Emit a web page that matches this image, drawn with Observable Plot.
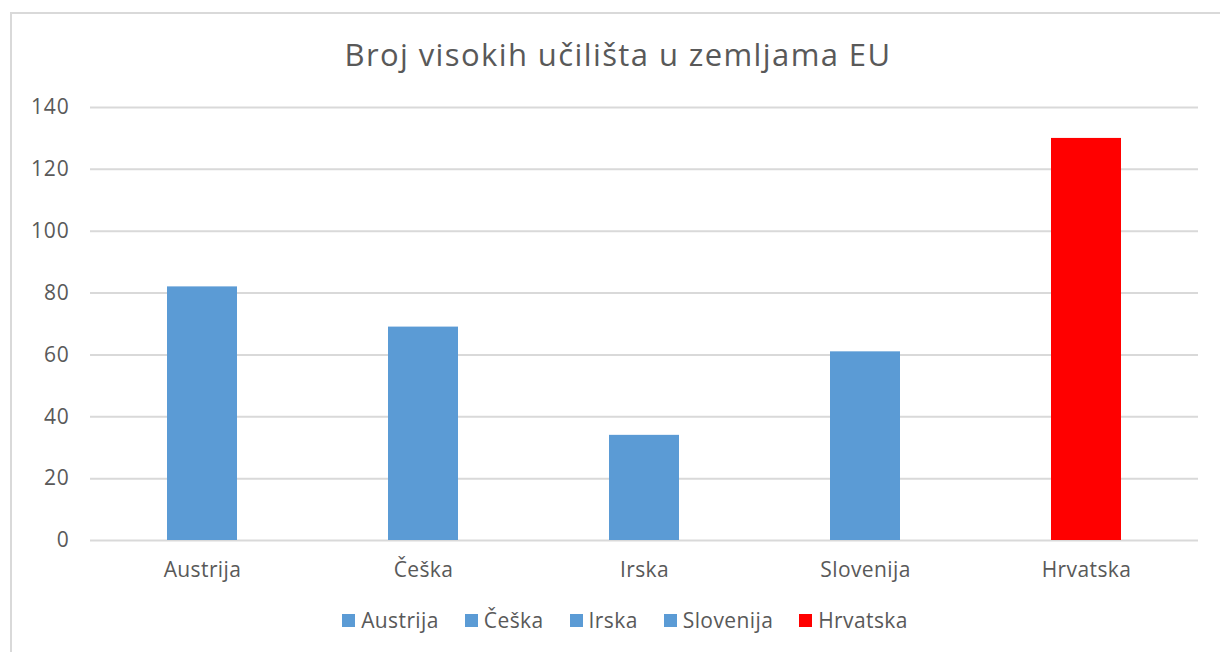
<!DOCTYPE html>
<html>
<head>
<meta charset="utf-8">
<script src="https://cdn.jsdelivr.net/npm/d3@7"></script>
<script src="https://cdn.jsdelivr.net/npm/@observablehq/plot@0.6"></script>
<style>
  html, body { margin: 0; padding: 0; background: #fff; }
  body { width: 1220px; height: 652px; position: relative; overflow: hidden; font-family: "Open Sans", Lato, sans-serif; }
  #frame { position: absolute; left: 10px; top: 12px; width: 1230px; height: 660px; border: 2px solid #d9d9d9; box-sizing: border-box; }
  #title { position: absolute; left: 0; width: 1236px; top: 33px; text-align: center; font-size: 31px; letter-spacing: 1.4px; line-height: 42px; color: #595959; }
  #chart { position: absolute; left: 0; top: 80px; }
  #legend { position: absolute; top: 605px; left: 0; width: 1250px; display: flex; justify-content: center; gap: 26px; font-size: 21px; letter-spacing: 0.4px; line-height: 30px; color: #595959; }
  #legend span.item { display: flex; align-items: center; }
  #legend span.sw { display: inline-block; width: 13px; height: 13px; margin-right: 6px; }
</style>
</head>
<body>
<div id="frame"></div>
<div id="title">Broj visokih učilišta u zemljama EU</div>
<div id="chart"></div>
<div id="legend"></div>
<script>
const countries = ["Austrija", "Češka", "Irska", "Slovenija", "Hrvatska"];
const values = [82, 69, 34, 61, 130];
const colors = ["#5b9bd5", "#5b9bd5", "#5b9bd5", "#5b9bd5", "#ff0000"];
const yTicks = [0, 20, 40, 60, 80, 100, 120, 140];

const data = countries.map((c, i) => ({country: c, value: values[i], color: colors[i]}));

const plot = Plot.plot({
  width: 1220,
  height: 520,
  marginTop: 27,
  marginBottom: 60,
  marginLeft: 90,
  marginRight: 22,
  style: {fontFamily: "'Open Sans', Lato, sans-serif", fontSize: "21px", color: "#595959", background: "transparent"},
  x: {domain: countries, paddingInner: 0.684, paddingOuter: 0.342, label: null},
  y: {domain: [0, 140], ticks: yTicks, label: null},
  marks: [
    Plot.gridY(yTicks, {stroke: "#d9d9d9", strokeOpacity: 1, strokeWidth: 2}),
    Plot.barY(data, {x: "country", y: "value", fill: "color"}),
    Plot.axisX({tickSize: 0, tickPadding: 22, fill: "#595959", fontSize: 21}),
    Plot.axisY({ticks: yTicks, tickSize: 0, tickPadding: 21, fill: "#595959", fontSize: 21})
  ]
});
plot.querySelectorAll("[aria-label='x-axis tick label'] text").forEach(t => t.setAttribute("letter-spacing", "0.4"));
plot.querySelectorAll("[aria-label='y-axis tick label'] text").forEach(t => t.setAttribute("letter-spacing", "0.8"));
document.getElementById("chart").appendChild(plot);

const legend = document.getElementById("legend");
countries.forEach((c, i) => {
  const item = document.createElement("span");
  item.className = "item";
  const sw = document.createElement("span");
  sw.className = "sw";
  sw.style.background = colors[i];
  item.appendChild(sw);
  item.appendChild(document.createTextNode(c));
  legend.appendChild(item);
});
</script>
</body>
</html>
